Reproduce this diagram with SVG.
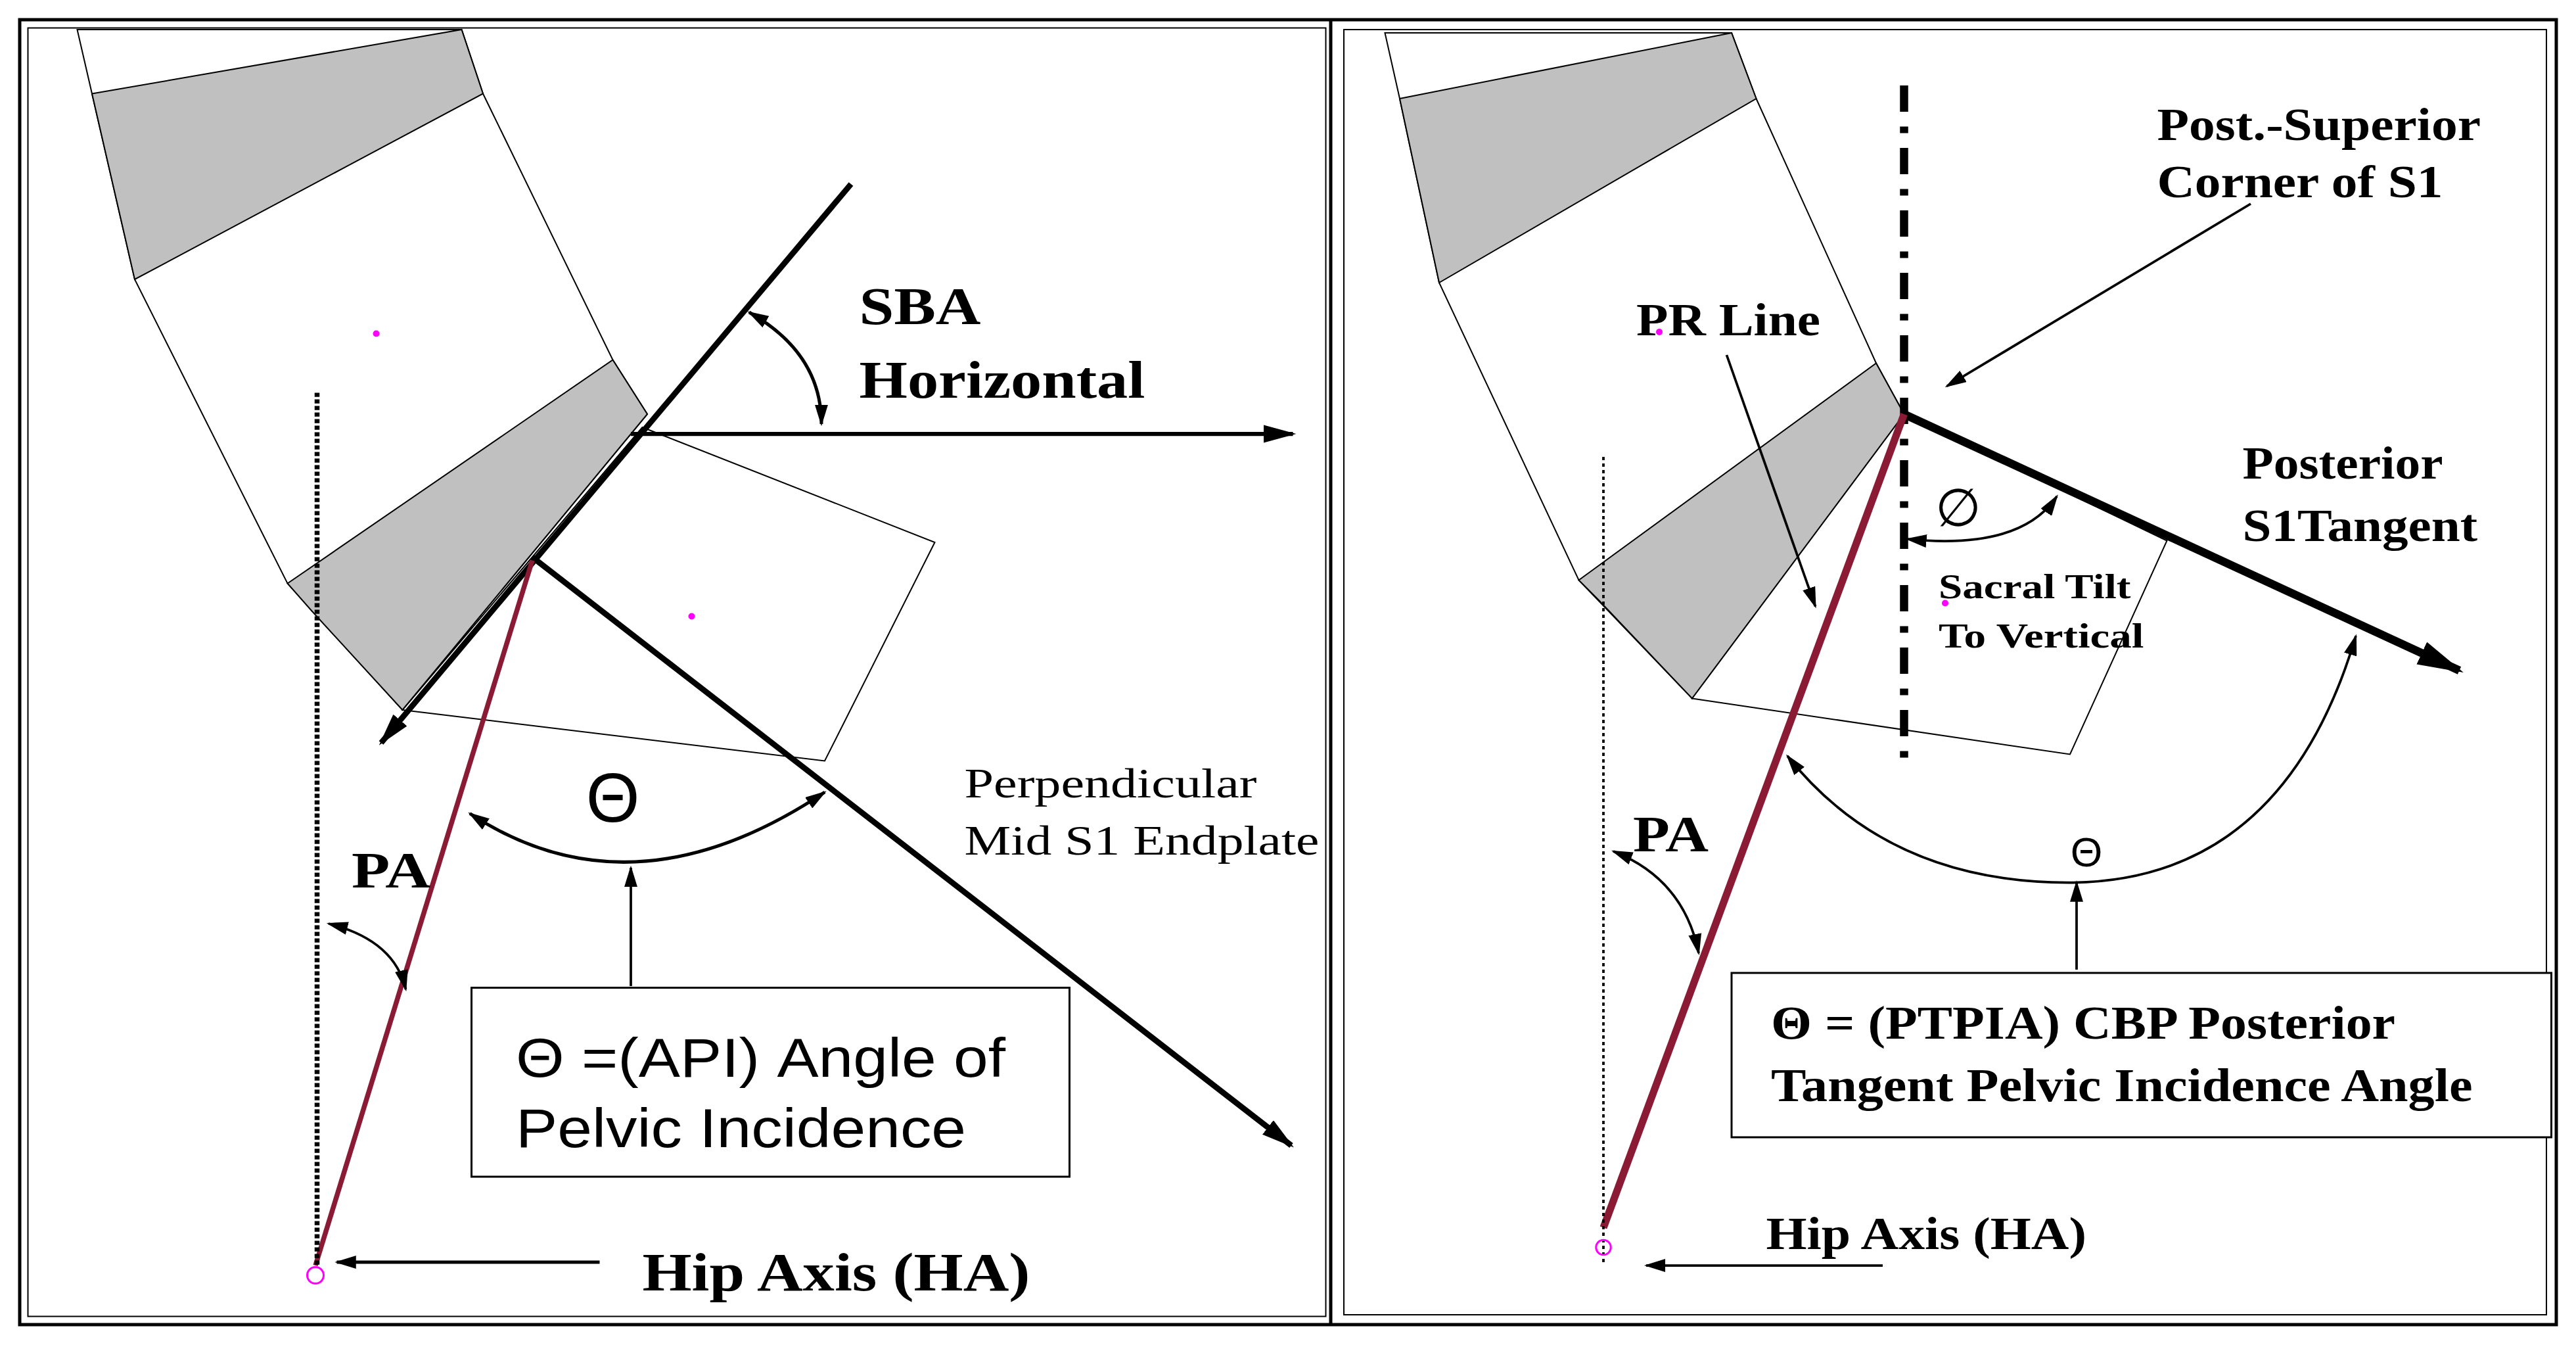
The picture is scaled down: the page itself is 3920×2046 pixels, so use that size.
<svg xmlns="http://www.w3.org/2000/svg" width="3920" height="2046" viewBox="0 0 3920 2046">
<defs>
<marker id="ah" viewBox="0 0 10 10" refX="9" refY="5" markerWidth="13" markerHeight="8" markerUnits="userSpaceOnUse" preserveAspectRatio="none" orient="auto-start-reverse"><path d="M0,0 L10,5 L0,10 z" fill="#000"/></marker>
<marker id="ahl" viewBox="0 0 10 10" refX="9" refY="5" markerWidth="20" markerHeight="11" markerUnits="userSpaceOnUse" preserveAspectRatio="none" orient="auto-start-reverse"><path d="M0,0 L10,5 L0,10 z" fill="#000"/></marker>
<marker id="ahx" viewBox="0 0 10 10" refX="9" refY="5" markerWidth="28" markerHeight="15" markerUnits="userSpaceOnUse" preserveAspectRatio="none" orient="auto-start-reverse"><path d="M0,0 L10,5 L0,10 z" fill="#000"/></marker>
<style>
.v{fill:#fff;stroke:#000;stroke-width:0.8}
.g{fill:#c0c0c0;stroke:#000;stroke-width:0.8}
.ln{stroke:#000;fill:none}
.red{stroke:#8b1a35;fill:none}
.b{font-family:"Liberation Serif",serif;font-weight:bold;fill:#000}
.s{font-family:"Liberation Sans",sans-serif;fill:#000}
.r{font-family:"Liberation Serif",serif;fill:#000}
</style>
</defs>
<rect width="3920" height="2046" fill="#fff"/>
<g transform="scale(2.5)">
<g id="frame">
<rect x="12" y="12" width="1544" height="794" fill="none" stroke="#000" stroke-width="2"/>
<rect x="17" y="17" width="790" height="784" fill="none" stroke="#000" stroke-width="0.8"/>
<rect x="818" y="18" width="732" height="782" fill="none" stroke="#000" stroke-width="0.8"/>
<line x1="810" y1="12" x2="810" y2="806" stroke="#000" stroke-width="2"/>
</g>
<!-- LEFT PANEL -->
<g id="left-vertebrae">
<polygon class="v" points="47,18 281,18 294,57 373,219 394,252 245,432 175,355 82,170 56,57"/>
<polygon class="g" points="56,57 281,18 294,57 82,170"/>
<polygon class="g" points="175,355 373,219 394,252 245,432 190,372"/>
<polygon class="v" points="391,260 569,330 502,463 245,432"/>
<circle cx="229" cy="203" r="2" fill="#f0f"/>
<circle cx="421" cy="375" r="2" fill="#f0f"/>
</g>
<g id="left-connectors">
<line class="ln" x1="518" y1="112" x2="232" y2="452" stroke-width="3.5" marker-end="url(#ahl)"/>
<line class="ln" x1="384" y1="264" x2="787" y2="264" stroke-width="2.5" marker-end="url(#ahl)"/>
<line class="ln" x1="324" y1="339" x2="786" y2="697" stroke-width="3.5" marker-end="url(#ahl)"/>
<line class="red" x1="324" y1="341" x2="192" y2="770" stroke-width="3"/>
<line class="ln" x1="193" y1="239" x2="193" y2="770" stroke-width="3" stroke-dasharray="2.5,1.5"/>
<circle cx="192" cy="776" r="5" fill="none" stroke="#f0f" stroke-width="1.2"/>
<path class="ln" d="M456,190 Q500,215 500,258" stroke-width="2" marker-start="url(#ah)" marker-end="url(#ah)"/>
<path class="ln" d="M286,495 Q385,560 502,482" stroke-width="2" marker-start="url(#ah)" marker-end="url(#ah)"/>
<line class="ln" x1="384" y1="600" x2="384" y2="528" stroke-width="1.5" marker-end="url(#ah)"/>
<path class="ln" d="M200,562 Q240,572 247,602" stroke-width="1.5" marker-start="url(#ah)" marker-end="url(#ah)"/>
<line class="ln" x1="365" y1="768" x2="205" y2="768" stroke-width="2" marker-end="url(#ah)"/>
</g>
<g id="left-box">
<rect x="287" y="601" width="364" height="115" fill="#fff" stroke="#000" stroke-width="1.2"/>
<text class="s" x="314" y="655" font-size="33" textLength="298" lengthAdjust="spacingAndGlyphs">Θ =(API) Angle of</text>
<text class="s" x="314" y="698" font-size="33" textLength="274" lengthAdjust="spacingAndGlyphs">Pelvic Incidence</text>
</g>
<g id="left-labels">
<text class="b" x="523" y="197" font-size="32" textLength="74" lengthAdjust="spacingAndGlyphs">SBA</text>
<text class="b" x="523" y="242" font-size="32" textLength="174" lengthAdjust="spacingAndGlyphs">Horizontal</text>
<text class="r" x="587" y="485" font-size="25" textLength="178" lengthAdjust="spacingAndGlyphs">Perpendicular</text>
<text class="r" x="587" y="520" font-size="25" textLength="216" lengthAdjust="spacingAndGlyphs">Mid S1 Endplate</text>
<text class="s" x="373" y="500" font-size="42" text-anchor="middle">Θ</text>
<text class="b" x="214" y="540" font-size="31" textLength="48" lengthAdjust="spacingAndGlyphs">PA</text>
<text class="b" x="391" y="785" font-size="33" textLength="236" lengthAdjust="spacingAndGlyphs">Hip Axis (HA)</text>
</g>
<!-- RIGHT PANEL -->
<g id="right-vertebrae">
<polygon class="v" points="843,20 1054,20 1069,60 1142,221 1159,252 1030,425 961,353 876,172 852,60"/>
<polygon class="g" points="852,60 1054,20 1069,60 876,172"/>
<polygon class="g" points="961,353 1142,221 1159,252 1030,425 973,365"/>
<polygon class="v" points="1159,252 1319,329 1260,459 1030,425"/>
<circle cx="1010" cy="202" r="2" fill="#f0f"/>
<circle cx="1184" cy="367" r="2" fill="#f0f"/>
</g>
<g id="right-connectors">
<line class="ln" x1="1159" y1="52" x2="1159" y2="462" stroke-width="5" stroke-dasharray="16,9,4,9"/>
<line class="ln" x1="1159" y1="252" x2="1497" y2="408" stroke-width="5" marker-end="url(#ahx)"/>
<line class="red" x1="1159" y1="252" x2="976" y2="747" stroke-width="4.5"/>
<line class="ln" x1="976" y1="278" x2="976" y2="770" stroke-width="1.5" stroke-dasharray="2,2"/>
<circle cx="976" cy="759" r="4.5" fill="none" stroke="#f0f" stroke-width="1.2"/>
<line class="ln" x1="1370" y1="124" x2="1185" y2="235" stroke-width="1.5" marker-end="url(#ah)"/>
<line class="ln" x1="1051" y1="216" x2="1105" y2="369" stroke-width="1.5" marker-end="url(#ah)"/>
<path class="ln" d="M1252,302 Q1230,335 1161,328" stroke-width="1.5" marker-start="url(#ah)" marker-end="url(#ah)"/>
<path class="ln" d="M1088,460 Q1150,538 1262,537 Q1390,535 1434,387" stroke-width="1.5" marker-start="url(#ah)" marker-end="url(#ah)"/>
<line class="ln" x1="1264" y1="590" x2="1264" y2="537" stroke-width="1.5" marker-end="url(#ah)"/>
<path class="ln" d="M982,518 Q1025,535 1034,580" stroke-width="1.5" marker-start="url(#ah)" marker-end="url(#ah)"/>
<line class="ln" x1="1146" y1="770" x2="1002" y2="770" stroke-width="1.5" marker-end="url(#ah)"/>
</g>
<g id="right-box">
<rect x="1054" y="592" width="499" height="100" fill="#fff" stroke="#000" stroke-width="1.2"/>
<text class="b" x="1078" y="632" font-size="29" textLength="380" lengthAdjust="spacingAndGlyphs">Θ = (PTPIA) CBP Posterior</text>
<text class="b" x="1078" y="670" font-size="29" textLength="427" lengthAdjust="spacingAndGlyphs">Tangent Pelvic Incidence Angle</text>
</g>
<g id="right-labels">
<text class="b" x="1313" y="85" font-size="28" textLength="197" lengthAdjust="spacingAndGlyphs">Post.-Superior</text>
<text class="b" x="1313" y="120" font-size="28" textLength="174" lengthAdjust="spacingAndGlyphs">Corner of S1</text>
<text class="b" x="996" y="204" font-size="28" textLength="112" lengthAdjust="spacingAndGlyphs">PR Line</text>
<text class="s" x="1192" y="320" font-size="32" text-anchor="middle">∅</text>
<text class="b" x="1180" y="364" font-size="21" textLength="117" lengthAdjust="spacingAndGlyphs">Sacral Tilt</text>
<text class="b" x="1180" y="394" font-size="21" textLength="125" lengthAdjust="spacingAndGlyphs">To Vertical</text>
<text class="b" x="1365" y="291" font-size="28" textLength="122" lengthAdjust="spacingAndGlyphs">Posterior</text>
<text class="b" x="1365" y="329" font-size="28" textLength="143" lengthAdjust="spacingAndGlyphs">S1Tangent</text>
<text class="s" x="1270" y="527" font-size="25" text-anchor="middle">Θ</text>
<text class="b" x="994" y="518" font-size="31" textLength="46" lengthAdjust="spacingAndGlyphs">PA</text>
<text class="b" x="1075" y="760" font-size="28" textLength="195" lengthAdjust="spacingAndGlyphs">Hip Axis (HA)</text>
</g>
</g>
</svg>
